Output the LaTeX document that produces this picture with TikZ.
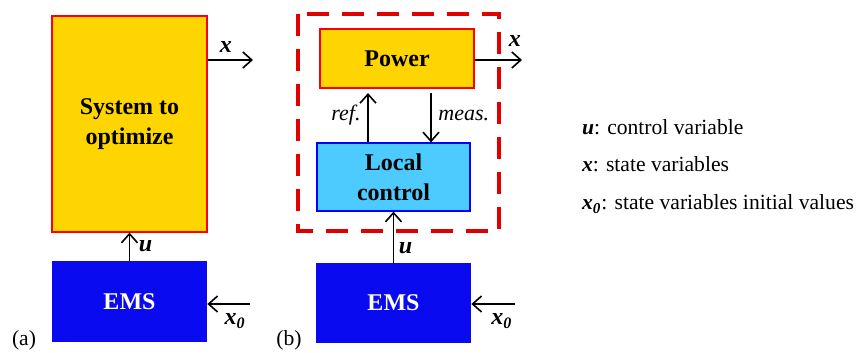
\documentclass[tikz,border=0pt]{standalone}
\usepackage{fontspec}
\setmainfont{Liberation Serif}
\usetikzlibrary{positioning,calc,arrows.meta}
\definecolor{sysgold}{RGB}{255,213,0}
\definecolor{emsblue}{RGB}{10,10,240}
\definecolor{ctrlblue}{RGB}{77,203,255}
\definecolor{frame}{RGB}{225,0,0}
\tikzset{
  block/.style    = {shape=rectangle, inner sep=0pt, align=center,
                     font=\fontsize{12}{15}\selectfont\bfseries},
  sysnode/.style  = {block, draw=red, fill=sysgold, line width=0.6pt},
  emsnode/.style  = {block, fill=emsblue, text=white},
  ctrlnode/.style = {block, draw=blue, fill=ctrlblue, line width=0.6pt},
  var/.style      = {font=\fontsize{12}{14}\selectfont\bfseries\itshape},
  sig/.style      = {font=\fontsize{11}{13}\selectfont\itshape},
  legend/.style   = {anchor=west, font=\fontsize{10.8}{13}\selectfont},
  flow/.style     = {-{Straight Barb[length=4.5pt,width=8pt]}, line width=0.8pt}
}
\newcommand{\xz}[0]{\textbf{\textit{x\textsubscript{0}}}}

\begin{document}
\begin{tikzpicture}[x=0.5pt,y=-0.5pt]
  \useasboundingbox (0,0) rectangle (863,353);
  % (a)
  \node [sysnode, minimum width=77.5pt, minimum height=108pt] (sys) at (129.5,124)
        {System to\\optimize};
  \node [emsnode, minimum width=77.5pt, minimum height=40.5pt] (emsA) at (129.5,301.5) {EMS};
  \coordinate (xoutA) at (253,60);
  \coordinate (xinA) at (250,304);
  \draw [flow] (sys.east |- xoutA) -- (xoutA) node [var, pos=0.4, above] {x};
  \draw [flow] (emsA.north) -- (sys.south) node [var, midway, right=1pt] {u};
  \draw [flow] (xinA) -- (emsA.east |- xinA) node [var, pos=0.35, below=1pt] {\xz};
  \node (labA) at (24,340) {\fontsize{10.8}{13}\selectfont (a)};
  % (b)
  \node [sysnode, minimum width=77pt, minimum height=29.5pt] (power) at (397,58.5) {Power};
  \node [ctrlnode, minimum width=76.5pt, minimum height=34pt] (local) at (393.5,177)
        {Local\\control};
  \node [emsnode, minimum width=77.5pt, minimum height=40pt] (emsB) at (393.5,303) {EMS};
  \draw [frame, dashed, dash pattern=on 11pt off 6.5pt, line width=2pt]
        (298,14) rectangle (499,231);
  \coordinate (xoutB) at (522,60);
  \coordinate (xinB) at (515,304);
  \draw [flow] (power.east |- xoutB) -- (xoutB) node [var, pos=0.85, above=3pt] {x};
  \draw [flow] (local.north -| 368,0) -- (368,93) node [sig, pos=0.55, left=0pt] {ref.};
  \draw [flow] (431,93) -- (local.north -| 431,0) node [sig, pos=0.45, right=0pt] {meas.};
  \draw [flow] (emsB.north) -- (local.south) node [var, pos=0.28, right=-1pt] {u};
  \draw [flow] (xinB) -- (emsB.east |- xinB) node [var, pos=0.3, below=1pt] {\xz};
  \node (labB) at (289,340) {\fontsize{10.8}{13}\selectfont (b)};
  % legend
  \node [legend] (legU) at (575,127) {\textbf{\textit{u}}: control variable};
  \node [legend] (legX) at (575,164) {\textbf{\textit{x}}: state variables};
  \node [legend] (legXz) at (575,204) {\xz: state variables initial values};
\end{tikzpicture}
\end{document}
